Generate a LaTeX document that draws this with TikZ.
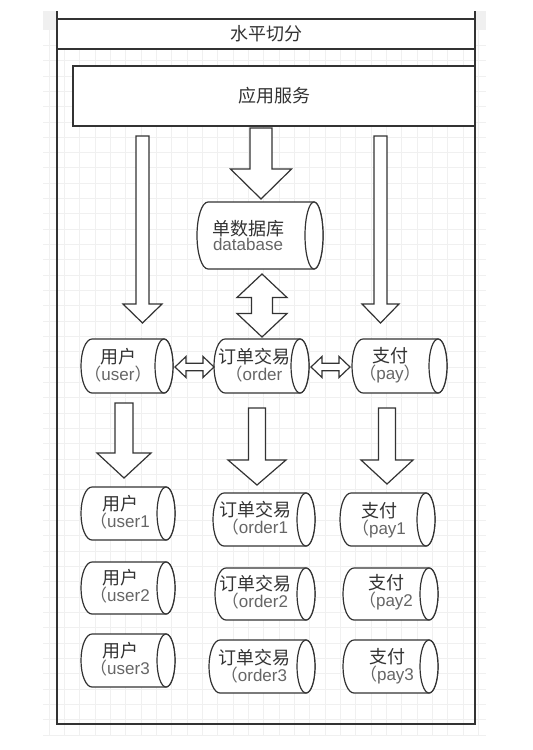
\documentclass[tikz,border=0pt]{standalone}
\usepackage{fontspec}
\setmainfont{Liberation Sans}
\newfontfamily\cjk{Noto Sans CJK SC}
\definecolor{ln}{HTML}{333333}
\definecolor{tg}{HTML}{666666}
\definecolor{grd}{HTML}{F0F0F0}
\definecolor{band}{HTML}{F0F0F0}
\tikzset{
  arr/.style={draw=ln, fill=white, line width=1.2pt, line join=miter},
  cylbody/.style={draw=ln, fill=white, line width=1.2pt},
  lbl/.style={align=center, inner sep=0pt, font=\fontsize{17}{15}\selectfont, text=ln},
  frm/.style={draw=ln, line width=1.8pt},
  gridline/.style={draw=grd, line width=0.6pt},
}
\newcommand\cjkbig{\cjk\fontsize{18}{15}\selectfont}
\newcommand\cylshape[6]{%
  \pgfmathsetmacro\cylcy{(#2+#4)/2}%
  \pgfmathsetmacro\cylry{(#4-#2)/2}%
  \draw[cylbody] (#1+#5,#2) arc[start angle=90,end angle=270,x radius=#5pt,y radius=\cylry pt]
     -- (#3-#6,#4) arc[start angle=-90,end angle=90,x radius=#6pt,y radius=\cylry pt] -- cycle;
  \draw[cylbody] (#3-#6,\cylcy) ellipse[x radius=#6pt,y radius=\cylry pt];
}
\newcommand\cyl[9]{%
  \cylshape{#2}{#3}{#4}{#5}{11}{9}%
  \node[lbl] (#1) at (#6,#7) {{\cjkbig #8}\\\textcolor{tg}{#9}};
}
\newcommand\blkdown[6]{% x, ytop, ytip, shaft half, head half, head length
  \draw[arr] (#1-#4,#2) -- (#1+#4,#2) -- (#1+#4,#3-#6) -- (#1+#5,#3-#6) -- (#1,#3)
     -- (#1-#5,#3-#6) -- (#1-#4,#3-#6) -- cycle;}
\newcommand\blkvd[6]{% x, ytop tip, ybottom tip, shaft half, head half, head length
  \draw[arr] (#1,#2) -- (#1+#5,#2+#6) -- (#1+#4,#2+#6) -- (#1+#4,#3-#6) -- (#1+#5,#3-#6)
     -- (#1,#3) -- (#1-#5,#3-#6) -- (#1-#4,#3-#6) -- (#1-#4,#2+#6) -- (#1-#5,#2+#6) -- cycle;}
\newcommand\blkhd[6]{% xleft, xright, y, shaft half, head half, head length
  \draw[arr] (#1,#3) -- (#1+#6,#3-#5) -- (#1+#6,#3-#4) -- (#2-#6,#3-#4) -- (#2-#6,#3-#5)
     -- (#2,#3) -- (#2-#6,#3+#5) -- (#2-#6,#3+#4) -- (#1+#6,#3+#4) -- (#1+#6,#3+#5) -- cycle;}
\begin{document}
\begin{tikzpicture}[x=1pt,y=-1pt]
\useasboundingbox[fill=white] (0,0) rectangle (533,750);
% grid
\foreach \i in {0,...,28} {
  \pgfmathsetmacro\gx{49+15.33*\i}
  \draw[gridline] (\gx,30) -- (\gx,735);
}
\foreach \j in {0,...,45} {
  \pgfmathsetmacro\gy{735-15.33*\j}
  \draw[gridline] (43,\gy) -- (486,\gy);
}
\fill[band] (43,11) rectangle (486,30);
\fill[white] (57,11) rectangle (475,49);
% frame
\draw[frm] (57,11) -- (57,724) -- (475,724) -- (475,11);
\draw[frm] (57,19) -- (475,19);
\draw[frm] (57,49) -- (475,49);
\node[lbl] (title) at (266,34) {\cjkbig 水平切分};
\node[draw=ln, line width=1.5pt, fill=white, minimum width=402pt, minimum height=60pt, inner sep=0pt,
      text=ln] (app) at (274,96) {\cjkbig 应用服务};
% arrows from app
\blkdown{142.5}{136}{323}{6.5}{19.5}{19}
\blkdown{261}{128}{199}{11}{30.5}{30}
\blkdown{380.5}{136}{323}{6.5}{18.5}{19}
% database
\cyl{db}{197}{202}{323}{269}{248}{236}{单数据库}{database}
\blkvd{262}{274}{337}{10.5}{25}{23.5}
% row 2
\cyl{user}{81}{339}{173}{393}{118}{365}{用户}{{\cjk （}user{\cjk ）}}
\cyl{order}{214}{339}{309}{393}{254}{365}{订单交易}{{\cjk （}order}
\cyl{pay}{352}{339}{447}{393}{390}{365}{支付}{{\cjk （}pay{\cjk ）}}
\blkhd{175}{214}{367}{3.8}{10.5}{11}
\blkhd{311}{350}{367}{3.8}{10.5}{11}
% arrows down
\blkdown{124}{403}{478}{9}{27}{25}
\blkdown{257}{408}{485}{8.5}{29}{25}
\blkdown{387}{408}{484}{8.5}{26}{24}
% rows 3-5
\cyl{user1}{81}{487}{175}{540}{120}{512}{用户}{{\cjk （}user1}
\cyl{order1}{213}{493}{315}{546}{255}{518}{订单交易}{{\cjk （}order1}
\cyl{pay1}{340}{493}{435}{546}{379}{520}{支付}{{\cjk （}pay1}
\cyl{user2}{81}{562}{175}{614}{120}{586}{用户}{{\cjk （}user2}
\cyl{order2}{215}{568}{315}{620}{255}{592}{订单交易}{{\cjk （}order2}
\cyl{pay2}{343}{568}{438}{620}{386}{592}{支付}{{\cjk （}pay2}
\cyl{user3}{81}{634}{175}{687}{120}{659}{用户}{{\cjk （}user3}
\cyl{order3}{209}{640}{315}{693}{254}{666}{订单交易}{{\cjk （}order3}
\cyl{pay3}{343}{640}{438}{693}{387}{666}{支付}{{\cjk （}pay3}
\end{tikzpicture}
\end{document}
